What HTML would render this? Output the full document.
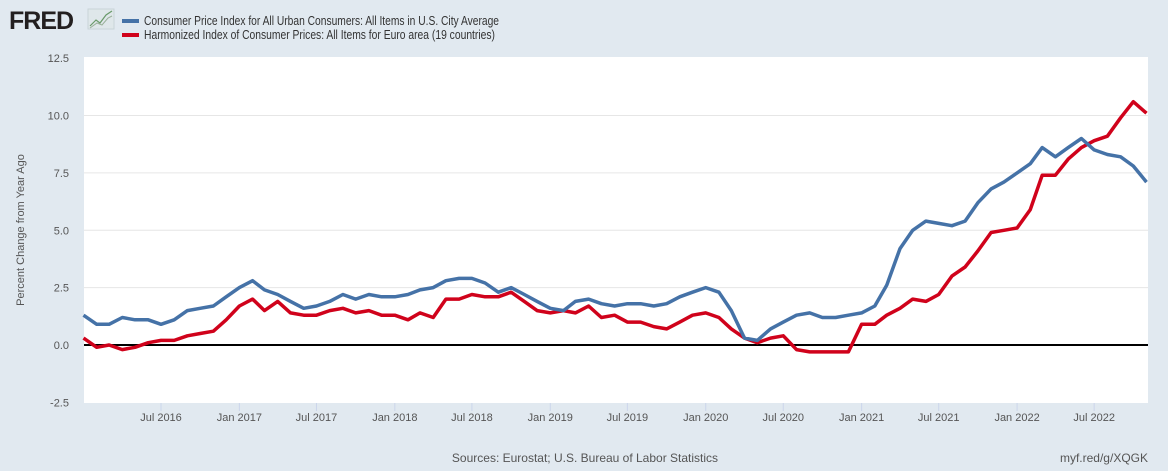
<!DOCTYPE html>
<html><head><meta charset="utf-8"><style>
body{margin:0;background:#e1e9f0;font-family:"Liberation Sans",sans-serif;}
svg text{font-family:"Liberation Sans",sans-serif;}
</style></head><body>
<svg id="chart" width="1168" height="466">
<rect width="1168" height="466" fill="#e1e9f0"/>
<g>
<text x="9" y="29" font-size="25" font-weight="bold" fill="#231f20" letter-spacing="-1">FRED</text>
<rect x="88" y="9" width="26" height="20" fill="#dfe7ea" stroke="#c9d4d8"/>
<polyline points="90,26 96,20 100,23 106,15 112,11" fill="none" stroke="#6a9a6a" stroke-width="1.2"/>
<polyline points="90,28 97,23 102,25 108,18 112,16" fill="none" stroke="#9ab09a" stroke-width="1"/>
</g>
<g>
<rect x="122" y="19" width="17" height="4" fill="#4572a7"/>
<text x="144" y="25" font-size="12.5" fill="#333" textLength="355" lengthAdjust="spacingAndGlyphs">Consumer Price Index for All Urban Consumers: All Items in U.S. City Average</text>
<rect x="122" y="33" width="17" height="4" fill="#d0021b"/>
<text x="144" y="39" font-size="12.5" fill="#333" textLength="351" lengthAdjust="spacingAndGlyphs">Harmonized Index of Consumer Prices: All Items for Euro area (19 countries)</text>
</g>
<rect x="84" y="57" width="1064" height="346" fill="#fff"/>
<g id="grid"></g><g id="yticks"></g><g id="xticks"></g>
<line x1="84" x2="1148" y1="345" y2="345" stroke="#000" stroke-width="2"/>
<g id="series"></g>
<text transform="translate(24,230) rotate(-90)" text-anchor="middle" font-size="11" fill="#555">Percent Change from Year Ago</text>
<text x="585" y="462" text-anchor="middle" font-size="12" fill="#555">Sources: Eurostat; U.S. Bureau of Labor Statistics</text>
<text x="1148" y="462" text-anchor="end" font-size="12" fill="#555">myf.red/g/XQGK</text>
</svg>
<script>
const cpi=[1.3,0.9,0.9,1.2,1.1,1.1,0.9,1.1,1.5,1.6,1.7,2.1,
2.5,2.8,2.4,2.2,1.9,1.6,1.7,1.9,2.2,2.0,2.2,2.1,
2.1,2.2,2.4,2.5,2.8,2.9,2.9,2.7,2.3,2.5,2.2,1.9,
1.6,1.5,1.9,2.0,1.8,1.7,1.8,1.8,1.7,1.8,2.1,2.3,
2.5,2.3,1.5,0.3,0.2,0.7,1.0,1.3,1.4,1.2,1.2,1.3,
1.4,1.7,2.6,4.2,5.0,5.4,5.3,5.2,5.4,6.2,6.8,7.1,
7.5,7.9,8.6,8.2,8.6,9.0,8.5,8.3,8.2,7.8,7.1];
const hicp=[0.3,-0.1,0.0,-0.2,-0.1,0.1,0.2,0.2,0.4,0.5,0.6,1.1,
1.7,2.0,1.5,1.9,1.4,1.3,1.3,1.5,1.6,1.4,1.5,1.3,
1.3,1.1,1.4,1.2,2.0,2.0,2.2,2.1,2.1,2.3,1.9,1.5,
1.4,1.5,1.4,1.7,1.2,1.3,1.0,1.0,0.8,0.7,1.0,1.3,
1.4,1.2,0.7,0.3,0.1,0.3,0.4,-0.2,-0.3,-0.3,-0.3,-0.3,
0.9,0.9,1.3,1.6,2.0,1.9,2.2,3.0,3.4,4.1,4.9,5.0,
5.1,5.9,7.4,7.4,8.1,8.6,8.9,9.1,9.9,10.6,10.1];
const yTicks=[-2.5,0,2.5,5,7.5,10,12.5];
const xTickLabels=["Jul 2016","Jan 2017","Jul 2017","Jan 2018","Jul 2018","Jan 2019","Jul 2019","Jan 2020","Jul 2020","Jan 2021","Jul 2021","Jan 2022","Jul 2022"];
const NS="http://www.w3.org/2000/svg";
const t0=Date.UTC(2016,0,1);
const pxPerDay=0.4259;
function xDate(d){return 83.5+(d-t0)/86400000*pxPerDay;}
function xMonth(i){return xDate(Date.UTC(2016,i,1));}
function y(v){return 345-v*22.95;}
function mk(tag,attrs,parent){const e=document.createElementNS(NS,tag);for(const k in attrs)e.setAttribute(k,attrs[k]);parent.appendChild(e);return e;}
const grid=document.getElementById('grid'),yt=document.getElementById('yticks'),xt=document.getElementById('xticks'),ser=document.getElementById('series');
yTicks.forEach(v=>{
 if(v!==0&&v!==-2.5&&v!==12.5){const l=mk('line',{x1:84,x2:1148,y1:y(v),y2:y(v),stroke:'#e6e6e6','stroke-width':1},grid);
 
 }
 const t=mk('text',{x:69,y:y(v)+4,'text-anchor':'end','font-size':11,fill:'#555'},yt);
 t.textContent=v.toFixed(1);
 
 
});
xTickLabels.forEach(s=>{
 const [m,yr]=s.split(' ');const d=Date.UTC(+yr,m==='Jul'?6:0,1);const x=xDate(d);
 const l=mk('line',{x1:x,x2:x,y1:403,y2:411,stroke:'#ccd6eb'},xt);
 
 
 const t=mk('text',{x:x,y:421,'text-anchor':'middle','font-size':11,fill:'#555'},xt);
 t.textContent=s;
 
 
});
function line(arr,color,name){
 const p=mk('polyline',{points:arr.map((v,i)=>xMonth(i).toFixed(1)+','+y(v).toFixed(1)).join(' '),fill:'none',stroke:color,'stroke-width':3.5,'stroke-linejoin':'round'},ser);
 
 
}
line(hicp,'#d0021b','hicp-line');
line(cpi,'#4572a7','cpi-line');
</script>
</body></html>
